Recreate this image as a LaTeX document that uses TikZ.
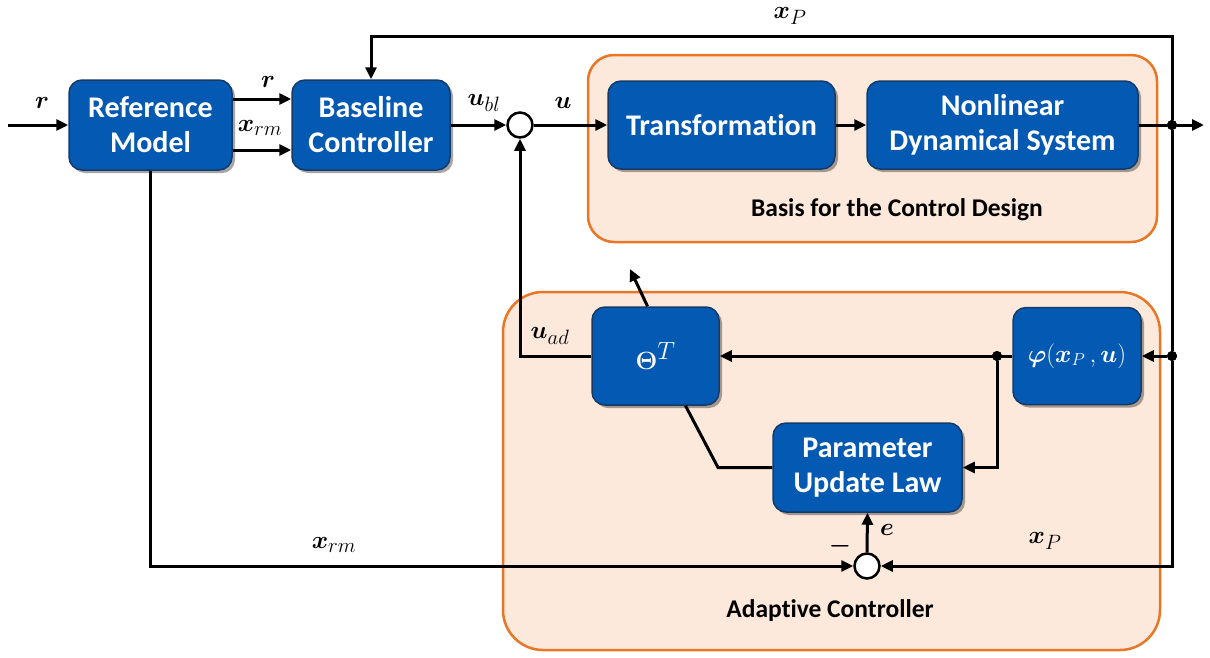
\documentclass[tikz,border=0pt]{standalone}
\usepackage{amsmath,bm}
\usepackage{fontspec}
\setmainfont{Carlito}[Ligatures=NoCommon]
\usetikzlibrary{arrows.meta,shadows}
\definecolor{boxblue}{RGB}{4,90,178}
\definecolor{boxedge}{RGB}{22,58,104}
\definecolor{orfill}{RGB}{252,233,219}
\definecolor{oredge}{RGB}{232,118,36}
\tikzset{
 blk/.style={draw=boxedge, line width=1.5pt, fill=boxblue, rounded corners=13pt, text=white,
   font=\fontsize{30}{35}\selectfont\bfseries, align=center, inner sep=0pt,
   drop shadow={shadow xshift=3pt,shadow yshift=-3pt,opacity=0.35,fill=black}},
 sumnode/.style={circle, draw=black, line width=2.5pt, fill=white, minimum size=25pt, inner sep=0pt},
 dotnode/.style={circle, fill=black, minimum size=10pt, inner sep=0pt},
 sig/.style={line width=3pt, -{Triangle[length=12pt,width=11pt]}},
 wire/.style={line width=3pt},
 region/.style={draw=oredge, line width=2.5pt, fill=orfill},
 lbl/.style={font=\fontsize{28}{28}\selectfont, inner sep=0pt},
 rtitle/.style={font=\fontsize{25.5}{28}\selectfont\bfseries}
}
\begin{document}
\begin{tikzpicture}[x=1pt,y=-1pt]
\useasboundingbox (0,0) rectangle (1210,657);
% regions
\draw[region, rounded corners=26pt] (588,55) rectangle (1157,242);
\draw[region, rounded corners=40pt] (503,292) rectangle (1160,650);
\node[rtitle] (rt1) at (897,210) {Basis for the Control Design};
\node[rtitle] (rt2) at (830,611) {Adaptive Controller};
% blocks
\node[blk, minimum width=163pt, minimum height=90pt] (ref) at (150.5,125) {Reference\\Model};
\node[blk, minimum width=158pt, minimum height=90pt] (base) at (371,125) {Baseline\\Controller};
\node[blk, minimum width=227pt, minimum height=88pt] (tr) at (721.5,125) {Transformation};
\node[blk, minimum width=271pt, minimum height=88pt] (nds) at (1002.5,125) {Nonlinear\\Dynamical System};
\node[blk, minimum width=127pt, minimum height=98pt, font=\fontsize{33}{36}\selectfont] (theta) at (655.5,356) {$\bm{\Theta}^{T}$};
\node[blk, minimum width=128pt, minimum height=97pt, font=\fontsize{27}{30}\selectfont] (phi) at (1077,356) {$\bm{\varphi}(\bm{x}_P\,,\bm{u})$};
\node[blk, minimum width=189pt, minimum height=89pt] (pul) at (867.5,467.5) {Parameter\\Update Law};
% junctions
\node[sumnode] (s1) at (520,125) {};
\node[sumnode] (s2) at (867,566) {};
\coordinate (rin) at (8,125);
\coordinate (yout) at (1204,125);
\coordinate (thout) at (630,269);
% connectors
\draw[sig] (rin) -- (ref.west);
\draw[sig] (ref.east |- 0,99) -- (base.west |- 0,99);
\draw[sig] (ref.east |- 0,150) -- (base.west |- 0,150);
\draw[sig] (base.east) -- (s1.west);
\draw[sig] (s1.east) -- (tr.west);
\draw[sig] (tr.east) -- (nds.west);
\draw[sig] (nds.east) -- (yout);
\node[dotnode] (d1) at (1172,125) {};
\node[dotnode] (d2) at (1172,356) {};
\node[dotnode] (d3) at (997,356) {};
\draw[sig] (d1) -- (1172,36) -| (base.north);
\draw[wire] (d1) -- (d2);
\draw[sig] (d2) -- (phi.east);
\draw[sig] (d2) |- (s2.east);
\draw[sig] (phi.west) -- (theta.east);
\draw[sig] (d3) |- (pul.east);
\draw[sig] (theta.west) -| (s1.south);
\draw[sig] ([xshift=-8pt]theta.north) -- (thout);
\draw[wire] ([xshift=30pt]theta.south) -- (718,467.5) -- (pul.west);
\draw[sig] (ref.south) |- (s2.west);
\draw[sig] (s2.north) -- (pul.south);
\node[dotnode] at (d1) {};
\node[dotnode] at (d2) {};
\node[dotnode] at (d3) {};
% labels
\node[lbl] (l1) at (42,103) {$\bm{r}$};
\node[lbl] (l2) at (268,82) {$\bm{r}$};
\node[lbl] (l3) at (260,128) {$\bm{x}_{rm}$};
\node[lbl] (l4) at (484,103) {$\bm{u}_{bl}$};
\node[lbl] (l5) at (563,103) {$\bm{u}$};
\node[lbl] (l6) at (790,16) {$\bm{x}_{P}$};
\node[lbl] (l7) at (550,336) {$\bm{u}_{ad}$};
\node[lbl] (l8) at (887,530) {$\bm{e}$};
\node[lbl] (l9) at (840,546) {$\bm{-}$};
\node[lbl] (l10) at (334,545) {$\bm{x}_{rm}$};
\node[lbl] (l11) at (1045,541) {$\bm{x}_{P}$};
\end{tikzpicture}
\end{document}
